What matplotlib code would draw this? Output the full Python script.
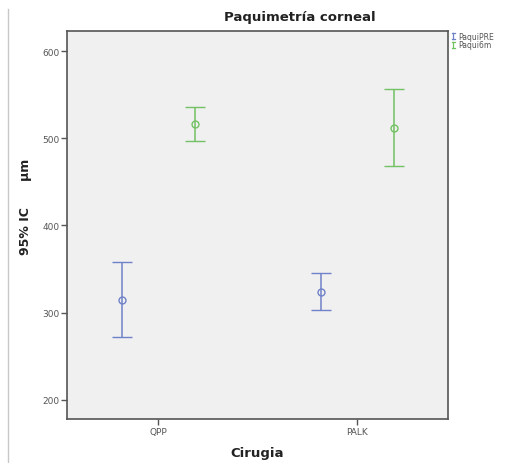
import matplotlib
matplotlib.use("Agg")
import matplotlib.pyplot as plt
from matplotlib.lines import Line2D
import numpy as np

# Corneal pachymetry (µm): mean and 95% CI per surgery group
categories = ["QPP", "PALK"]
series = ["PaquiPRE", "Paqui6m"]
means = {"PaquiPRE": [315, 324], "Paqui6m": [516, 512]}
ci_low = {"PaquiPRE": [272, 303], "Paqui6m": [497, 468]}
ci_high = {"PaquiPRE": [358, 345], "Paqui6m": [536, 556]}
yticks = [200, 300, 400, 500, 600]

colors = {"PaquiPRE": "#6f82c8", "Paqui6m": "#72c163"}
offsets = {"PaquiPRE": -0.183, "Paqui6m": 0.183}

W, H = 507, 464
fig = plt.figure(figsize=(W / 100, H / 100), dpi=100)
ax = fig.add_axes([67 / W, 1 - 420 / H, 381 / W, 388 / H])
ax.set_facecolor("#f0f0f0")

x = np.arange(len(categories))
for s in series:
    m = np.array(means[s], dtype=float)
    lo = m - np.array(ci_low[s])
    hi = np.array(ci_high[s]) - m
    ax.errorbar(x + offsets[s], m, yerr=[lo, hi], fmt="o", color=colors[s],
                mfc="none", mec=colors[s], ms=5, mew=1.0, elinewidth=1.1,
                capsize=7, capthick=1.1)

ax.set_xlim(-0.457, 1.455)
ax.set_ylim(178, 623)
ax.set_yticks(yticks)
ax.set_xticks(x)
ax.set_xticklabels(categories)
ax.tick_params(axis="both", colors="#555555", labelsize=6.5, length=4,
               width=1.0, labelcolor="#555555")
ax.tick_params(axis="y", pad=1.5)
ax.tick_params(axis="x", pad=2)
for sp in ax.spines.values():
    sp.set_color("#555555")
    sp.set_linewidth(1.2)

# Titles and axis labels
fig.text(300 / W, 1 - 18 / H, "Paquimetría corneal", ha="center",
         va="center", fontsize=9.5, fontweight="bold", color="#222222")
fig.text(257 / W, 1 - 454 / H, "Cirugia", ha="center", va="center",
         fontsize=9.5, fontweight="bold", color="#222222")
fig.text(26 / W, 1 - 207 / H, "95% IC      µm", ha="center", va="center",
         rotation=90, fontsize=9, fontweight="bold", color="#222222")

# Thin frame line at the left edge
fig.add_artist(Line2D([8 / W, 8 / W], [0, 1 - 10 / H],
                      transform=fig.transFigure, color="#c8c8c8", lw=1.0))

# Legend beside the plot: small error-bar glyphs with series names
for i, s in enumerate(series):
    yc = 37 + 9 * i
    xc = 453
    glyph = [([xc, xc], [yc - 3, yc + 3]),
             ([xc - 1.5, xc + 1.5], [yc - 3, yc - 3]),
             ([xc - 1.5, xc + 1.5], [yc + 3, yc + 3])]
    for gx, gy in glyph:
        fig.add_artist(Line2D([v / W for v in gx], [1 - v / H for v in gy],
                              transform=fig.transFigure, color=colors[s],
                              lw=0.9))
    fig.text(458 / W, 1 - yc / H, s, ha="left", va="center", fontsize=5.5,
             color="#555555")

fig.savefig("out.png", dpi=100)
